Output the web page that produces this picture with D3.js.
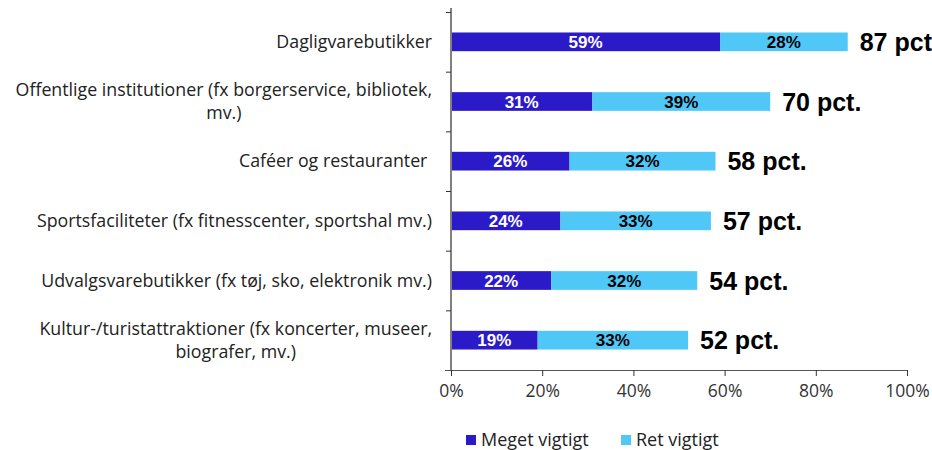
<!DOCTYPE html>
<html>
<head>
<meta charset="utf-8">
<script src="https://cdn.jsdelivr.net/npm/d3@7"></script>
<style>
  body { margin: 0; background: #fff; }
  svg { display: block; overflow: hidden; }
</style>
</head>
<body>
<div id="chart"></div>
<script>
const categories = [
  ["Dagligvarebutikker"],
  ["Offentlige institutioner (fx borgerservice, bibliotek,", "mv.)"],
  ["Caféer og restauranter "],
  ["Sportsfaciliteter (fx fitnesscenter, sportshal mv.)"],
  ["Udvalgsvarebutikker (fx tøj, sko, elektronik mv.)"],
  ["Kultur-/turistattraktioner (fx koncerter, museer,", "biografer, mv.)"]
];
const meget = [59, 31, 26, 24, 22, 19];
const ret = [28, 39, 32, 33, 32, 33];
const totals = [87, 70, 58, 57, 54, 52];
const seriesNames = ["Meget vigtigt", "Ret vigtigt"];
const xTicks = [0, 20, 40, 60, 80, 100];

const W = 932, H = 450;
const margin = { top: 12, right: 25, bottom: 80, left: 451 };
const width = W - margin.left - margin.right,
      height = H - margin.top - margin.bottom;

const textFont = "'Open Sans', Roboto, sans-serif";
const boldFont = "'Liberation Sans', Arial, sans-serif";

const colors = d3.scaleOrdinal().domain(seriesNames).range(["#2b1ac8", "#4fc8f8"]);

const svg = d3.select("#chart").append("svg")
  .attr("width", W)
  .attr("height", H);

const g = svg.append("g").attr("transform", `translate(${margin.left},${margin.top})`);

const x = d3.scaleLinear().domain([0, 100]).range([0, width]);
const y = d3.scaleBand().domain(d3.range(categories.length)).range([0, height]);
const barH = 18.7;

// bars
const rows = g.selectAll(".row")
  .data(categories.map((c, i) => ({ i, m: meget[i], r: ret[i], t: totals[i] })))
  .enter().append("g")
  .attr("class", "row")
  .attr("transform", d => `translate(0,${y(d.i) + y.bandwidth() / 2 - barH / 2})`);

rows.append("rect")
  .attr("x", x(0))
  .attr("width", d => x(d.m) - x(0))
  .attr("height", barH)
  .attr("fill", colors(seriesNames[0]));

rows.append("rect")
  .attr("x", d => x(d.m))
  .attr("width", d => x(d.m + d.r) - x(d.m))
  .attr("height", barH)
  .attr("fill", colors(seriesNames[1]));

rows.append("text")
  .attr("x", d => x(d.m / 2))
  .attr("y", barH / 2)
  .attr("dy", "0.36em")
  .attr("text-anchor", "middle")
  .style("font-family", boldFont)
  .style("font-weight", "bold")
  .style("font-size", "17px")
  .attr("fill", "#fff")
  .text(d => d.m + "%");

rows.append("text")
  .attr("x", d => x(d.m + d.r / 2))
  .attr("y", barH / 2)
  .attr("dy", "0.36em")
  .attr("text-anchor", "middle")
  .style("font-family", boldFont)
  .style("font-weight", "bold")
  .style("font-size", "17px")
  .attr("fill", "#000")
  .text(d => d.r + "%");

// totals (the first one runs past the right edge, as in the source)
rows.append("text")
  .attr("x", d => x(d.t) + 12)
  .attr("y", barH / 2)
  .attr("dy", "0.36em")
  .style("font-family", boldFont)
  .style("font-weight", "bold")
  .style("font-size", "25px")
  .attr("fill", "#000")
  .text(d => d.t + " pct.");

// y axis
const yAxis = g.append("g")
  .call(d3.axisLeft(d3.scaleLinear().domain([0, categories.length]).range([0, height]))
    .tickValues(d3.range(categories.length + 1)).tickSize(5).tickFormat(""));
yAxis.select(".domain").attr("stroke", "#808080").attr("stroke-width", 2).attr("d", `M0,-4V${height}`);
yAxis.selectAll(".tick line").attr("stroke", "#333");

// category labels
const labelRight = -19;
const labels = g.append("g")
  .style("font-family", textFont)
  .style("font-size", "17.8px")
  .attr("fill", "#222");

categories.forEach((lines, i) => {
  const t = labels.append("text")
    .attr("text-anchor", "middle")
    .style("white-space", "pre");
  const cy = y(i) + y.bandwidth() / 2;
  const lh = 23;
  lines.forEach((l, k) => {
    t.append("tspan")
      .attr("y", cy + (k - (lines.length - 1) / 2) * lh)
      .attr("dy", "0.35em")
      .text(l);
  });
  let maxW = 0;
  t.selectAll("tspan").each(function () { maxW = Math.max(maxW, this.getComputedTextLength()); });
  t.selectAll("tspan").attr("x", labelRight - maxW / 2);
});

// x axis
const xAxis = g.append("g")
  .attr("transform", `translate(0,${height})`)
  .call(d3.axisBottom(x).tickValues(xTicks).tickFormat(d => d + "%").tickSize(6).tickPadding(9).tickSizeOuter(0));
xAxis.select(".domain").attr("stroke", "#555").attr("d", `M-6,0.5H${width + 0.5}`);
xAxis.selectAll(".tick line").attr("stroke", "#333");
xAxis.selectAll(".tick text")
  .style("font-family", textFont)
  .style("font-size", "17.5px")
  .attr("fill", "#333");

// legend
const legend = svg.append("g").attr("transform", "translate(466,440)");
const legendX = [0, 155];
seriesNames.forEach((s, i) => {
  const li = legend.append("g").attr("transform", `translate(${legendX[i]},0)`);
  li.append("rect").attr("x", 0).attr("y", -5).attr("width", 10).attr("height", 10).attr("fill", colors(s));
  li.append("text")
    .attr("x", 15)
    .attr("y", 0)
    .attr("dy", "0.35em")
    .style("font-family", textFont)
    .style("font-size", "18px")
    .attr("fill", "#222")
    .text(s);
});
</script>
</body>
</html>
